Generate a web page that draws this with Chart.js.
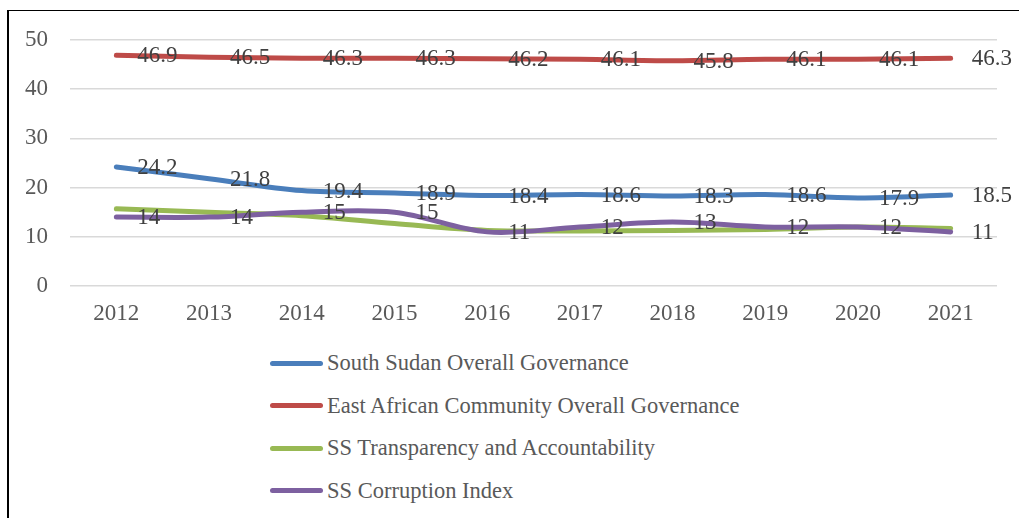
<!DOCTYPE html>
<html>
<head>
<meta charset="utf-8">
<script src="https://cdn.jsdelivr.net/npm/chart.js@4.4.1/dist/chart.umd.min.js"></script>
<style>
  html, body { margin: 0; padding: 0; background: #fff; }
  body { width: 1019px; height: 518px; position: relative; overflow: hidden; }
  #frame {
    position: absolute; left: 7px; top: 10px; width: 1100px; height: 600px;
    border-left: 2px solid #000; border-top: 1.5px solid #000; box-sizing: border-box;
  }
  #wrap { position: absolute; left: 0; top: 0; width: 1019px; height: 341px; }
  #legend {
    position: absolute; left: 270px; top: 342px; margin: 0; padding: 0; list-style: none;
    font-family: "Liberation Serif", "Times New Roman", serif; font-size: 22.5px; color: #595959;
  }
  #legend li { height: 42.5px; display: flex; align-items: center; white-space: nowrap; }
  #legend .swatch { width: 53px; height: 5px; border-radius: 3px; margin-right: 4px; }
</style>
</head>
<body>
<div id="frame"></div>
<div id="wrap"><canvas id="chart" width="1019" height="341"></canvas></div>
<ul id="legend"></ul>
<script>
const years = ['2012', '2013', '2014', '2015', '2016', '2017', '2018', '2019', '2020', '2021'];
const southSudanGovernance = [24.2, 21.8, 19.4, 18.9, 18.4, 18.6, 18.3, 18.6, 17.9, 18.5];
const eacGovernance = [46.9, 46.5, 46.3, 46.3, 46.2, 46.1, 45.8, 46.1, 46.1, 46.3];
const ssTransparency = [15.7, 15.0, 14.3, 12.7, 11.3, 11.2, 11.3, 11.5, 12.0, 11.7];
const ssCorruption = [14, 14, 15, 15, 11, 12, 13, 12, 12, 11];
const yTicks = [0, 10, 20, 30, 40, 50];

const serif = '"Liberation Serif", "Times New Roman", serif';

function series(label, data, color, order, showLabels) {
  return {
    label, data, order, showLabels,
    borderColor: color, backgroundColor: color,
    borderWidth: 5, borderCapStyle: 'round', borderJoinStyle: 'round',
    pointRadius: 0, pointHoverRadius: 0, tension: 0.35, fill: false
  };
}

// Value labels drawn to the right of each point
const valueLabels = {
  id: 'valueLabels',
  afterDatasetsDraw(chart) {
    const ctx = chart.ctx;
    ctx.save();
    ctx.font = '23px ' + serif;
    ctx.fillStyle = '#404040';
    ctx.textAlign = 'left';
    ctx.textBaseline = 'middle';
    chart.data.datasets.forEach((ds, i) => {
      if (!ds.showLabels) return;
      chart.getDatasetMeta(i).data.forEach((pt, j) => {
        ctx.fillText(String(ds.data[j]), pt.x + 21, pt.y + 1);
      });
    });
    ctx.restore();
  }
};

const chart = new Chart(document.getElementById('chart'), {
  type: 'line',
  data: {
    labels: years,
    datasets: [
      series('South Sudan Overall Governance', southSudanGovernance, '#4a7ebb', 3, true),
      series('East African Community Overall Governance', eacGovernance, '#be4b48', 2, true),
      series('SS Transparency and Accountability', ssTransparency, '#98b954', 1, false),
      series('SS Corruption Index', ssCorruption, '#7d60a0', 0, true)
    ]
  },
  options: {
    responsive: false,
    animation: false,
    events: [],
    layout: { padding: { top: 40, right: 22, left: 0, bottom: 0 } },
    plugins: { legend: { display: false }, tooltip: { enabled: false } },
    scales: {
      x: {
        offset: true,
        grid: { display: false, drawTicks: false },
        border: { display: false },
        ticks: { color: '#595959', font: { family: serif, size: 23 }, padding: 14, maxRotation: 0 },
        afterFit(s) { s.height = 55; }
      },
      y: {
        min: 0, max: 50,
        afterBuildTicks(s) { s.ticks = yTicks.map(v => ({ value: v })); },
        grid: { color: '#d9d9d9', lineWidth: 1.5, drawTicks: false },
        border: { display: false },
        ticks: { color: '#595959', font: { family: serif, size: 23 }, padding: 22 },
        afterFit(s) { s.width = 70; }
      }
    }
  },
  plugins: [valueLabels]
});

// Legend list built from the chart's datasets
const legend = document.getElementById('legend');
chart.data.datasets.forEach(ds => {
  const li = document.createElement('li');
  const sw = document.createElement('span');
  sw.className = 'swatch';
  sw.style.background = ds.borderColor;
  li.appendChild(sw);
  li.appendChild(document.createTextNode(ds.label));
  legend.appendChild(li);
});
</script>
</body>
</html>
